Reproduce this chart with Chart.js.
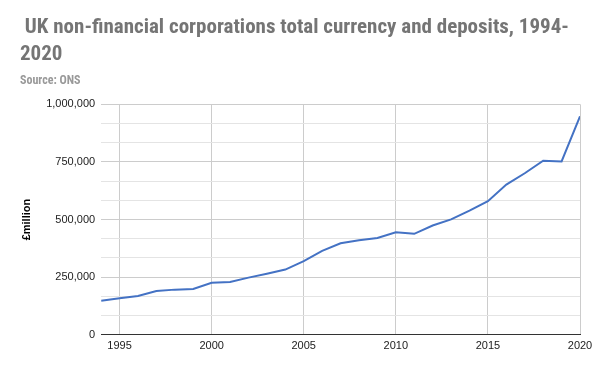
<!DOCTYPE html>
<html><head><meta charset="utf-8">
<script src="https://cdn.jsdelivr.net/npm/chart.js@4/dist/chart.umd.min.js"></script>
<style>html,body{margin:0;padding:0;background:#fff}#wrap{width:600px;height:371px}</style>
</head><body><div id="wrap"><canvas id="c" width="600" height="371"></canvas></div>
<script>
const years = [1994,1995,1996,1997,1998,1999,2000,2001,2002,2003,2004,2005,2006,2007,2008,2009,2010,2011,2012,2013,2014,2015,2016,2017,2018,2019,2020];
const deposits = [148000,159000,168000,190000,196000,199000,226000,229000,248000,265000,283000,320000,364000,397000,410000,420000,445000,438000,474000,501000,539000,580000,652000,701000,755000,752000,948000];
const xTicks = [1995,2000,2005,2010,2015,2020];
const yLabels = [0,250000,500000,750000,1000000];
const titleLines = [" UK non-financial corporations total currency and deposits, 1994-", "2020"];
const subtitleText = "Source: ONS";
const yTitle = "£million";

const FONT = "'Liberation Sans Narrow','Roboto Condensed','Liberation Sans',sans-serif";
const TFONT = "'Liberation Sans',Arial,sans-serif";
const isMajor = v => yLabels.some(l => Math.abs(l - v) < 1);

new Chart(document.getElementById('c'), {
  type: 'line',
  data: { datasets: [{ data: years.map((y,i)=>({x:y,y:deposits[i]})), borderColor:'#4472c4', borderWidth:2, pointRadius:0, tension:0, fill:false }] },
  options: {
    responsive:false, animation:false,
    layout:{ padding:{ left:20, right:20, top:5, bottom:13 } },
    plugins:{
      legend:{display:false}, tooltip:{enabled:false},
      title:{ display:true, text:titleLines, align:'start', color:'#757575', font:{family:FONT, size:21, weight:'bold', lineHeight:1.26}, padding:{top:10,bottom:6} },
      subtitle:{ display:true, text:subtitleText, align:'start', color:'#999999', font:{family:FONT, size:12, weight:'bold'}, padding:{top:0,bottom:16} }
    },
    scales:{
      x:{ type:'linear', min:1994, max:2020,
        afterBuildTicks: s => { s.ticks = xTicks.map(v=>({value:v})); },
        ticks:{ color:'#222', font:{family:TFONT, size:11}, maxRotation:0, autoSkip:false, padding:5, callback:v=>String(v) },
        grid:{ color:'#cccccc', lineWidth:1, drawTicks:false },
        border:{ display:true, color:'#333333', width:1 }
      },
      y:{ min:0, max:1000000,
        afterBuildTicks: s => { const t=[]; for(let i=0;i<=12;i++) t.push({value:i*1000000/12}); s.ticks=t; },
        ticks:{ color:'#222', font:{family:TFONT, size:11}, padding:6, autoSkip:false,
          callback: v => isMajor(v) ? Math.round(v).toLocaleString('en-US') : '' },
        grid:{ color: c => isMajor(c.tick.value) ? '#cccccc' : '#e4e4e4', lineWidth:1, drawTicks:false },
        border:{ display:false },
        title:{ display:true, text:yTitle, color:'#000', font:{family:TFONT, size:11, weight:'bold'}, padding:{top:0,bottom:7} }
      }
    }
  }
});
</script></body></html>
